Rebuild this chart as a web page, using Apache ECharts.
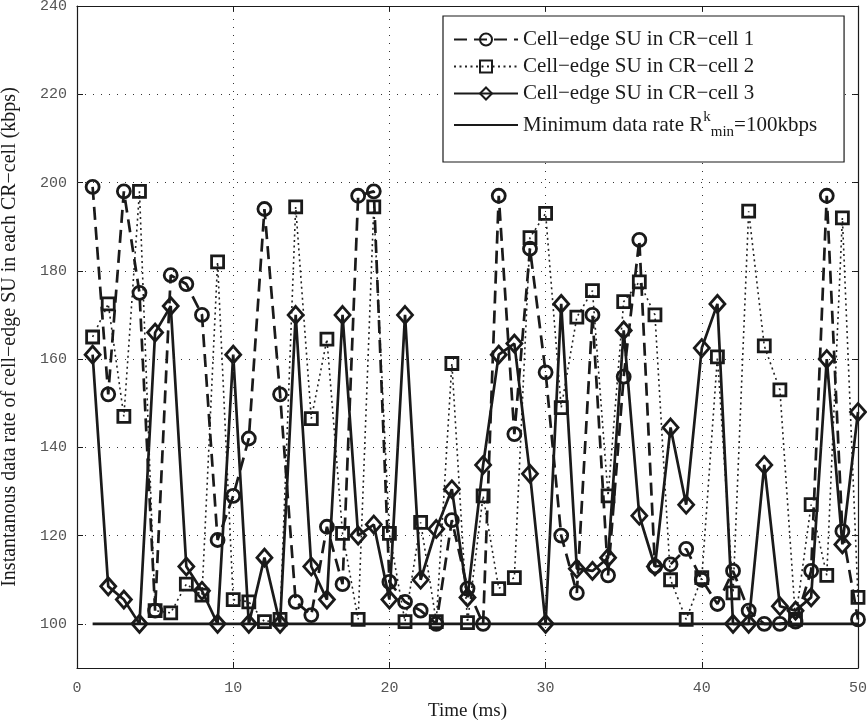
<!DOCTYPE html>
<html>
<head>
<meta charset="utf-8">
<title>Instantaneous data rate of cell-edge SUs</title>
<script src="https://cdn.jsdelivr.net/npm/echarts@6/dist/echarts.min.js"></script>
<style>
  html, body { margin: 0; padding: 0; background: #fff; }
  #chart { width: 867px; height: 721px; }
</style>
</head>
<body>
<div id="chart"></div>
<script>
// Time slots (ms)
const timeMs = [1,2,3,4,5,6,7,8,9,10,11,12,13,14,15,16,17,18,19,20,
                21,22,23,24,25,26,27,28,29,30,31,32,33,34,35,36,37,38,39,40,
                41,42,43,44,45,46,47,48,49,50];

// Instantaneous data rate (kbps) of the cell-edge SU in each CR-cell
const cell1Rate = [199,152,198,175,103,179,177,170,119,129,142,194,152,105,102,122,109,197,198,109.5,
                   105,103,100,123.5,108,100,197,143,185,157,120,107,170,111,156,187,113,113.5,117,110,
                   104.5,112,103,100,100,100.5,112,197,121,101];
const cell2Rate = [165,172.5,147,198,103,102.5,109,106.5,182,105.5,105,100.5,101,194.5,146.5,164.5,120.5,101,194.5,120.5,
                   100.5,123,100.5,159,100.3,129,108,110.5,187.5,193,149,169.5,175.5,129,173,177.5,170,110,101,110.5,
                   160.5,107,193.5,163,153,101,127,111,192,106];
const cell3Rate = [161,108.5,105.5,100,166,172,113,107.5,100,161,100,115,100,170,113,105.5,170,120,122.5,105.5,
                   170,110,121.5,130.5,106,136,161,163.5,134,100,172.5,112.5,112,115,166.5,124.5,113,144.5,127,162.5,
                   172.5,100,100,136,104,103,106,160,118,148];

// Minimum data rate requirement and the time span it is drawn over
const minRate = 100;
const minRateSpan = [1, 50];

// Axis ticks
const xTicks = [0, 10, 20, 30, 40, 50];
const yTicks = [100, 120, 140, 160, 180, 200, 220, 240];
const xGrid = [10, 20, 30, 40];
const yGrid = [100, 120, 140, 160, 180, 200, 220];

const seriesNames = [
  'Cell\u2212edge SU in CR\u2212cell 1',
  'Cell\u2212edge SU in CR\u2212cell 2',
  'Cell\u2212edge SU in CR\u2212cell 3',
  'Minimum data rate'
];

const INK = '#1a1a1a';
const SERIF = '"Liberation Serif", "DejaVu Serif", serif';
const MONO = '"Liberation Mono", "DejaVu Sans Mono", monospace';

const pairs = (xs, ys) => xs.map((x, i) => [x, ys[i]]);

const hollow = { color: 'rgba(0,0,0,0)', borderColor: INK, borderWidth: 2.8 };

const chart = echarts.init(document.getElementById('chart'), null, { renderer: 'canvas' });

const axisCommon = {
  axisLine: { show: true, onZero: false, lineStyle: { color: INK, width: 1.2 } },
  axisTick: { show: true, inside: true, length: 6, lineStyle: { color: INK, width: 1 } },
  splitLine: { show: false }
};

const option = {
  backgroundColor: '#fff',
  animation: false,
  grid: { left: 77, right: 9, top: 6, bottom: 53, containLabel: false, outerBoundsMode: 'none' },
  legend: {
    data: [
      { name: seriesNames[0] },
      { name: seriesNames[1] },
      { name: seriesNames[2] },
      { name: seriesNames[3], itemStyle: { color: 'rgba(0,0,0,0)', borderWidth: 0 } }
    ],
    z: 20,
    orient: 'vertical',
    left: 443,
    top: 16,
    padding: [13, 27, 22, 10],
    itemGap: 6,
    itemWidth: 64,
    itemHeight: 15,
    backgroundColor: '#fff',
    borderColor: INK,
    borderWidth: 1.2,
    borderRadius: 0,
    selectedMode: false,
    textStyle: {
      fontFamily: SERIF,
      fontSize: 21,
      color: INK,
      rich: {
        t: { fontFamily: SERIF, fontSize: 21, color: INK, lineHeight: 30, verticalAlign: 'middle' },
        sup: { fontFamily: SERIF, fontSize: 15, color: INK, lineHeight: 30, verticalAlign: 'top' },
        sub: { fontFamily: SERIF, fontSize: 15, color: INK, lineHeight: 30, verticalAlign: 'bottom' }
      }
    },
    formatter: function (name) {
      if (name === seriesNames[3]) {
        return '{t|Minimum data rate R}{sup|k}{sub|min}{t|=100kbps}';
      }
      return name;
    }
  },
  xAxis: [
    Object.assign({}, axisCommon, {
      type: 'value',
      min: xTicks[0],
      max: xTicks[xTicks.length - 1],
      interval: 10,
      position: 'bottom',
      name: 'Time (ms)',
      nameLocation: 'middle',
      nameGap: 34,
      nameTextStyle: { fontFamily: SERIF, fontSize: 19, color: INK },
      axisLabel: { margin: 13, fontFamily: MONO, fontSize: 15, color: '#555' }
    }),
    Object.assign({}, axisCommon, {
      type: 'value',
      min: xTicks[0],
      max: xTicks[xTicks.length - 1],
      interval: 10,
      position: 'top',
      axisLabel: { show: false }
    })
  ],
  yAxis: [
    Object.assign({}, axisCommon, {
      type: 'value',
      min: 90,
      max: 240,
      interval: 10,
      position: 'left',
      name: 'Instantanous data rate of cell\u2212edge SU in each CR\u2212cell (kbps)',
      nameLocation: 'middle',
      nameGap: 57,
      nameTextStyle: { fontFamily: SERIF, fontSize: 20, color: INK },
      axisTick: Object.assign({}, axisCommon.axisTick, { customValues: yTicks }),
      axisLabel: {
        margin: 10,
        fontFamily: MONO,
        fontSize: 15,
        color: '#555',
        customValues: yTicks,
        formatter: v => (yTicks.indexOf(v) >= 0 ? String(v) : '')
      }
    }),
    Object.assign({}, axisCommon, {
      type: 'value',
      min: 90,
      max: 240,
      interval: 10,
      position: 'right',
      axisTick: Object.assign({}, axisCommon.axisTick, { customValues: yTicks }),
      axisLabel: { show: false }
    })
  ],
  series: [
    {
      // dotted background grid
      name: 'grid',
      type: 'line',
      data: [],
      z: 0,
      silent: true,
      markLine: {
        silent: true,
        symbol: 'none',
        animation: false,
        label: { show: false },
        lineStyle: { color: '#333', width: 1, type: [1, 7] },
        emphasis: { disabled: true },
        data: yGrid.map(v => ({ yAxis: v })).concat(xGrid.map(v => ({ xAxis: v })))
      }
    },
    {
      name: seriesNames[0],
      type: 'line',
      data: pairs(timeMs, cell1Rate),
      z: 3,
      symbol: 'circle',
      symbolSize: 13,
      showAllSymbol: true,
      itemStyle: hollow,
      lineStyle: { color: INK, width: 2.7, type: [13, 7] }
    },
    {
      name: seriesNames[1],
      type: 'line',
      data: pairs(timeMs, cell2Rate),
      z: 2,
      symbol: 'rect',
      symbolSize: 12,
      showAllSymbol: true,
      itemStyle: hollow,
      lineStyle: { color: '#222', width: 1.6, type: [2, 3.5] }
    },
    {
      name: seriesNames[2],
      type: 'line',
      data: pairs(timeMs, cell3Rate),
      z: 4,
      symbol: 'diamond',
      symbolSize: [15, 17],
      showAllSymbol: true,
      itemStyle: hollow,
      lineStyle: { color: INK, width: 2.7, type: 'solid' }
    },
    {
      name: seriesNames[3],
      type: 'line',
      data: minRateSpan.map(x => [x, minRate]),
      z: 5,
      symbol: 'none',
      itemStyle: { color: INK },
      lineStyle: { color: INK, width: 2.7, type: 'solid' }
    }
  ]
};

chart.setOption(option);
</script>
</body>
</html>
